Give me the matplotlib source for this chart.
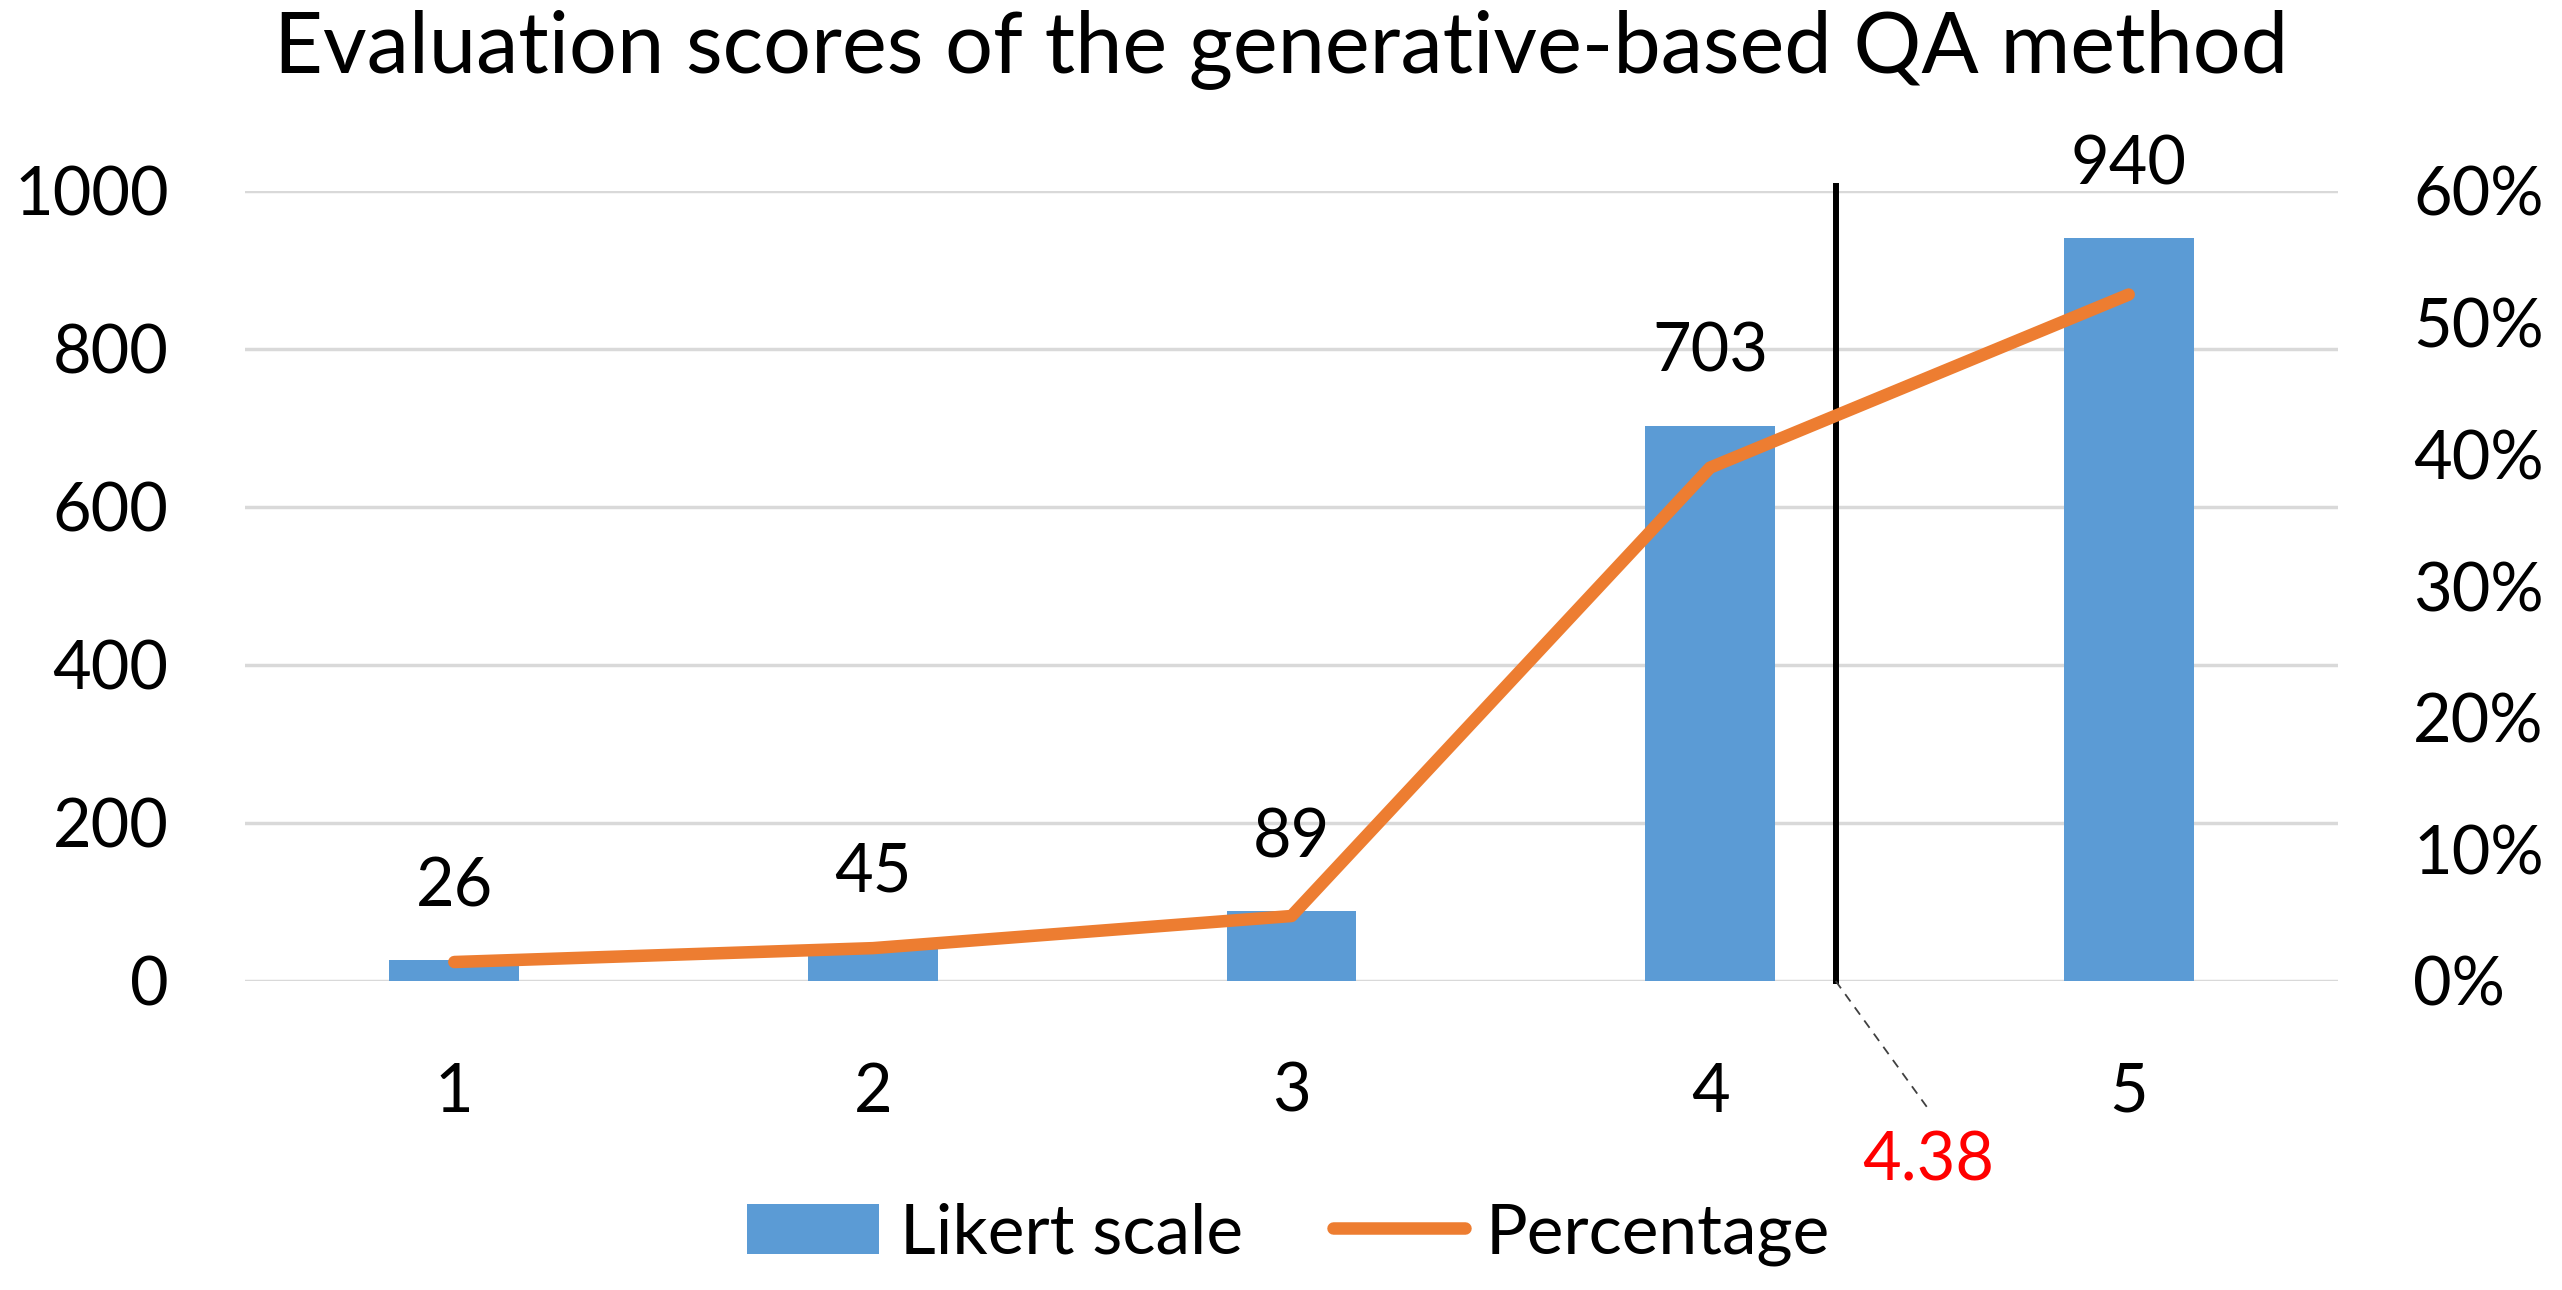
import matplotlib
matplotlib.use("Agg")
import matplotlib.pyplot as plt
from matplotlib.ticker import PercentFormatter

plt.rcParams['font.family'] = ['Lato', 'DejaVu Sans']

# ---- data ----
categories = ["1", "2", "3", "4", "5"]
counts = [26, 45, 89, 703, 940]
total = sum(counts)
percentages = [c / total for c in counts]
mean_label = "4.38"
mean_line_pos = 4.30          # where the reference draws the vertical marker
left_ticks = [0, 200, 400, 600, 800, 1000]
right_ticks = [0, 0.1, 0.2, 0.3, 0.4, 0.5, 0.6]

title = "Evaluation scores of the generative-based QA method"
bar_color = "#5B9BD5"
line_color = "#ED7D31"
grid_color = "#D9D9D9"
FS = 48

W, H = 2562, 1290
fig = plt.figure(figsize=(W / 100, H / 100), dpi=100)
ax = fig.add_axes([245 / W, 1 - 981 / H, (2338 - 245) / W, (981 - 191) / H])

x = list(range(1, len(categories) + 1))
bars = ax.bar(x, counts, width=0.31, color=bar_color, zorder=2, label="Likert scale")
ax.set_xlim(0.5, 5.5)
ax.set_ylim(0, 1000)
ax.set_yticks(left_ticks)
ax.set_xticks(x)
ax.set_xticklabels(categories)
ax.yaxis.grid(True, color=grid_color, linewidth=2.5, zorder=0)
ax.set_axisbelow(True)
for s in ax.spines.values():
    s.set_visible(False)
ax.tick_params(axis='both', length=0, labelsize=FS)
ax.tick_params(axis='y', pad=55)
ax.tick_params(axis='x', pad=58)

for xi, c in zip(x, counts):
    ax.annotate(str(c), xy=(xi, c), xytext=(0, 30), textcoords='offset points',
                ha='center', va='bottom', fontsize=FS, color='black')

ax2 = ax.twinx()
ax2.set_ylim(0, 0.6)
ax2.set_yticks(right_ticks)
ax2.yaxis.set_major_formatter(PercentFormatter(1.0, decimals=0))
for s in ax2.spines.values():
    s.set_visible(False)
ax2.tick_params(axis='y', length=0, labelsize=FS, pad=54)
line, = ax2.plot(x, percentages, color=line_color, linewidth=9,
                 solid_capstyle='round', solid_joinstyle='round', zorder=3,
                 label="Percentage")

# vertical marker line and its label
ax.plot([mean_line_pos, mean_line_pos], [0, 1006], color='black', linewidth=4.3,
        zorder=5, clip_on=False)
ax.plot([mean_line_pos, 4.52], [0, -161], color='#404040', linewidth=1.3,
        linestyle=(0, (5, 4)), zorder=5, clip_on=False)
ax.text(4.52, -229, mean_label, color='red', fontsize=FS, ha='center', va='center',
        clip_on=False)

fig.text(0.5, 1 - 49 / H, title, ha='center', va='center', fontsize=61)

fig.legend([bars, line], ["Likert scale", "Percentage"], loc='center',
           bbox_to_anchor=(0.503, 1 - 1234 / H), ncol=2, frameon=False,
           fontsize=50, handlelength=1.9, handleheight=0.75,
           handletextpad=0.3, columnspacing=1.3)

fig.savefig("out.png", dpi=100)
